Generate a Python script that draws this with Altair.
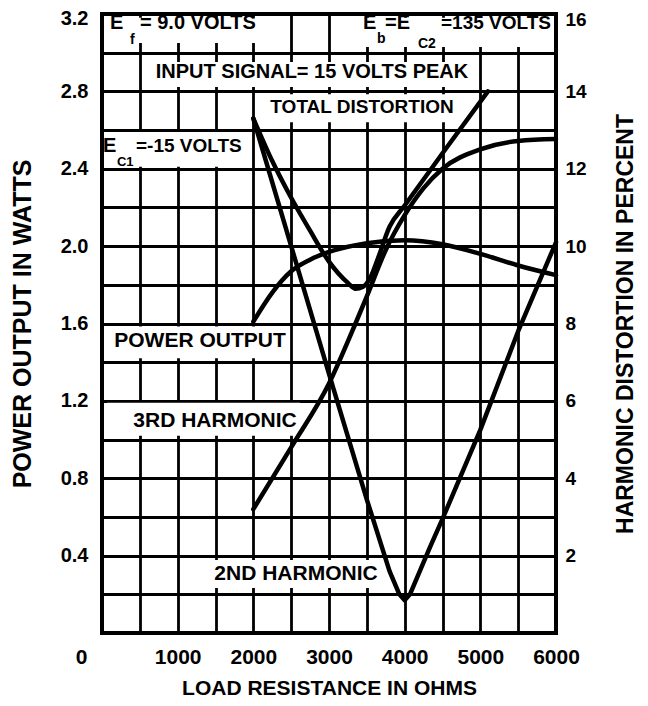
import altair as alt
import pandas as pd

# ---------------- data ----------------
# Power output (left axis, watts)
power_ohms = [2000, 2250, 2500, 2750, 3000, 3500, 4000, 4500, 5000, 5500, 6000]
power_watts = [1.61, 1.76, 1.87, 1.93, 1.97, 2.015, 2.03, 2.01, 1.96, 1.90, 1.85]

# Total distortion (right axis, percent)
total_ohms = [2000, 2250, 2500, 2750, 3000, 3250, 3350, 3450, 3550, 3650, 3800, 4000, 4500, 5100]
total_pct = [13.3, 12.2, 11.25, 10.4, 9.6, 9.05, 8.9, 8.95, 9.2, 9.7, 10.5, 11.05, 12.4, 14.0]

# 3rd harmonic (right axis, percent)
third_ohms = [2000, 2500, 3000, 3350, 3500, 3750, 4000, 4250, 4500, 5000, 5500, 6000]
third_pct = [3.2, 4.8, 6.45, 8.0, 8.7, 9.9, 10.8, 11.5, 12.0, 12.5, 12.72, 12.77]

# 2nd harmonic (right axis, percent)
second_ohms = [2000, 2500, 3000, 3500, 3800, 3930, 4000, 4070, 4335, 4500, 5000, 5500, 6000]
second_pct = [13.3, 10.0, 6.7, 3.45, 1.6, 1.0, 0.85, 1.0, 2.22, 2.95, 5.25, 7.8, 10.1]

# axis ticks
x_grid_values = list(range(0, 6001, 500))
y_left_values = [round(0.2 * i, 1) for i in range(17)]
y_right_values = list(range(2, 17, 2))

# annotations (data coordinates: ohms, watts)
ann_text = ["E", "f", "= 9.0 VOLTS", "E", "b", "=E", "C2", "=135 VOLTS",
            "INPUT SIGNAL= 15 VOLTS PEAK", "TOTAL DISTORTION",
            "E", "C1", "=-15 VOLTS", "POWER OUTPUT", "3RD HARMONIC", "2ND HARMONIC"]
ann_x = [106, 370, 502, 3449, 3634, 3740, 4176, 5934, 2775, 3436, 13, 198, 449, 1295, 1493, 2564]
ann_y = [3.156, 3.066, 3.156, 3.156, 3.071, 3.156, 3.045, 3.156, 2.900, 2.719,
         2.518, 2.435, 2.518, 1.507, 1.096, 0.305]
ann_size = [20, 14, 20, 20, 14, 20, 14, 19, 20, 19, 20, 13, 19, 21, 21, 21]
ann_align = ["left", "left", "left", "left", "left", "left", "left", "right", "center", "center",
             "left", "left", "left", "center", "center", "center"]

# white label backgrounds
box_x0 = [40, 3410, 529, 2060, 40, 40, 66, 1427]
box_x1 = [2154, 5960, 4956, 4720, 1930, 2485, 2617, 3700]
box_y0 = [3.05, 3.03, 2.823, 2.64, 2.41, 1.42, 1.02, 0.233]
box_y1 = [3.18, 3.18, 2.952, 2.785, 2.59, 1.585, 1.19, 0.377]

FONT = "Liberation Sans"

power_df = pd.DataFrame({"ohms": power_ohms, "val": power_watts})
total_df = pd.DataFrame({"ohms": total_ohms, "val": total_pct})
third_df = pd.DataFrame({"ohms": third_ohms, "val": third_pct})
second_df = pd.DataFrame({"ohms": second_ohms, "val": second_pct})
ann_df = pd.DataFrame({"t": ann_text, "x": ann_x, "y": ann_y, "s": ann_size, "a": ann_align})
box_df = pd.DataFrame({"x0": box_x0, "x1": box_x1, "y0": box_y0, "y1": box_y1})

x_scale = alt.Scale(domain=[0, 6000], nice=False, zero=False)
yl_scale = alt.Scale(domain=[0, 3.2], nice=False, zero=False)
yr_scale = alt.Scale(domain=[0, 16], nice=False, zero=False)

x_axis = alt.Axis(
    values=x_grid_values, grid=True, gridColor="black", gridWidth=2.8, gridOpacity=1,
    domain=False, ticks=False, tickSize=0,
    labelExpr="datum.value % 1000 == 0 ? format(datum.value, 'd') : ''",
    labelAlign="center",
    labelOffset={"condition": {"test": "datum.value == 0", "value": -21}, "value": 0},
    labelFlush=False, labelOverlap=False, labelPadding=13,
    labelFont=FONT, labelFontSize=21, labelFontWeight="bold", labelColor="black",
    title="LOAD RESISTANCE IN OHMS", titleFont=FONT, titleFontSize=21,
    titleFontWeight="bold", titleColor="black", titlePadding=10,
)
yl_axis = alt.Axis(
    values=y_left_values, grid=True, gridColor="black", gridWidth=2.8, gridOpacity=1,
    domain=False, ticks=False, tickSize=0,
    labelExpr="(round(datum.value * 10) % 4 == 0 && datum.value > 0) ? format(datum.value, '.1f') : ''",
    labelOffset={"condition": {"test": "datum.value > 3.1", "value": 4}, "value": 0},
    labelOverlap=False, labelPadding=14,
    labelFont=FONT, labelFontSize=20, labelFontWeight="bold", labelColor="black",
    title="POWER OUTPUT IN WATTS", titleFont=FONT, titleFontSize=25,
    titleFontWeight="bold", titleColor="black", titlePadding=25,
)
yr_axis = alt.Axis(
    orient="right", values=y_right_values, grid=False, domain=False, ticks=False, tickSize=0,
    labelAlign="left", labelPadding=9, labelOverlap=False,
    labelOffset={"condition": {"test": "datum.value == 16", "value": 5}, "value": 0},
    labelFont=FONT, labelFontSize=19, labelFontWeight="bold", labelColor="black",
    title="HARMONIC DISTORTION IN PERCENT", titleFont=FONT, titleFontSize=23,
    titleFontWeight="bold", titleColor="black", titleAngle=270, titleBaseline="top",
    titlePadding=28,
)

power_line = alt.Chart(power_df).mark_line(
    color="black", strokeWidth=4.5, interpolate="monotone", strokeCap="round"
).encode(
    x=alt.X("ohms:Q", scale=x_scale, axis=x_axis),
    y=alt.Y("val:Q", scale=yl_scale, axis=yl_axis),
)

boxes = alt.Chart(box_df).mark_rect(color="white").encode(
    x=alt.X("x0:Q", scale=x_scale, axis=x_axis), x2="x1:Q",
    y=alt.Y("y0:Q", scale=yl_scale, axis=yl_axis), y2="y1:Q",
)

def text_layer(align):
    return alt.Chart(ann_df).transform_filter(alt.datum.a == align).mark_text(
        font=FONT, fontWeight="bold", color="black", align=align, baseline="middle"
    ).encode(
        x=alt.X("x:Q", scale=x_scale, axis=x_axis),
        y=alt.Y("y:Q", scale=yl_scale, axis=yl_axis),
        text="t:N",
        size=alt.Size("s:Q", scale=None, legend=None),
    )

left = alt.layer(boxes, power_line, text_layer("left"), text_layer("center"), text_layer("right"))

def dist_line(df, interp):
    return alt.Chart(df).mark_line(
        color="black", strokeWidth=4.5, interpolate=interp, strokeCap="round", strokeJoin="round"
    ).encode(
        x=alt.X("ohms:Q", scale=x_scale, axis=x_axis),
        y=alt.Y("val:Q", scale=yr_scale, axis=yr_axis),
    )

right = alt.layer(
    dist_line(total_df, "monotone"),
    dist_line(third_df, "monotone"),
    dist_line(second_df, "linear"),
)

chart = alt.layer(left, right).resolve_scale(y="independent").properties(
    width=454, height=619,
    autosize=alt.AutoSizeParams(type="none"),
    padding={"left": 94, "top": 6, "right": 84, "bottom": 65},
    background="white",
).configure_view(stroke="black", strokeWidth=4)

chart.save("out.html", embed_options={"renderer": "svg", "actions": False})
